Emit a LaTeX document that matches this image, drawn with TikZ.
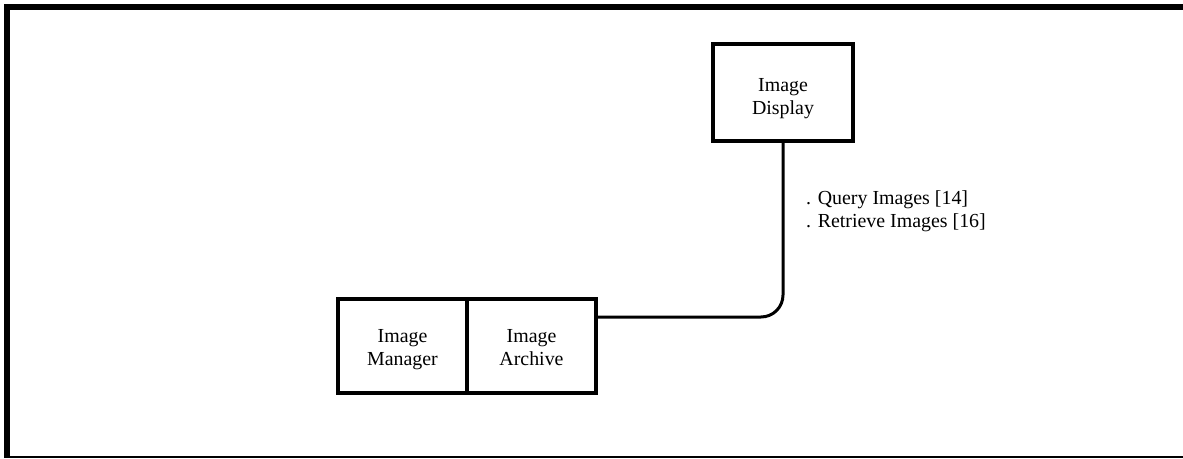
\documentclass[tikz,border=0pt]{standalone}
\usepackage{fontspec}
\setmainfont{Liberation Serif}
\begin{document}
\begin{tikzpicture}[x=1pt,y=-1pt,
  lbl/.style={font=\fontsize{19.9}{23}\selectfont},
  blk/.style={draw,line width=4pt,rectangle,inner sep=0pt,align=center,lbl},
  conn/.style={line width=3pt,rounded corners=22pt}]
\useasboundingbox (0,0) rectangle (1183,458);
% frame
\draw[line width=6pt] (1183,7) -- (7,7) -- (7,458);
\draw[line width=2pt] (4,457) -- (1183,457);
% blocks
\node[blk,minimum width=140pt,minimum height=97pt] (disp) at (783,92) {\rule{0pt}{26pt}Image\\Display};
\node[blk,minimum width=129pt,minimum height=94pt] (mgr) at (402.5,346) {\rule{0pt}{20pt}Image\\Manager};
\node[blk,minimum width=129pt,minimum height=94pt] (arch) at (531.5,346) {\rule{0pt}{20pt}Image\\Archive\vphantom{g}};
\coordinate (a) at (596,317);
\draw[conn] (arch.east |- a) -- (disp.south |- a) -- (disp.south);
\node[lbl,align=left,anchor=north west,inner sep=0pt] (ql) at (806,190) {. Query Images [14]\\. Retrieve Images [16]};
\end{tikzpicture}
\end{document}
